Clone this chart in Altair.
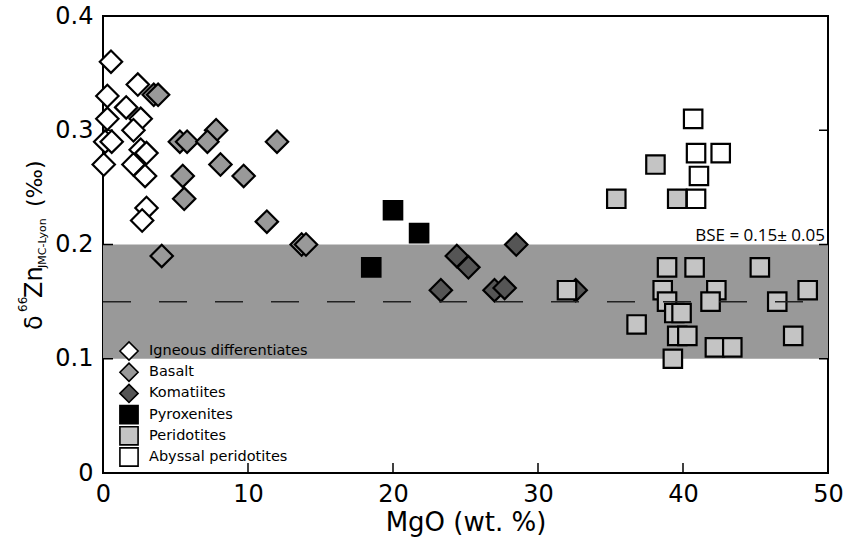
import altair as alt
import pandas as pd

# ---------------- data ----------------
categories = ["Igneous differentiates", "Basalt", "Komatiites",
              "Pyroxenites", "Peridotites", "Abyssal peridotites"]

igneous_x = [0.55, 0.3, 2.4, 1.6, 0.3, 2.6, 2.1, 0.15, 0.6, 2.6, 3.0, 0.05, 2.1, 2.9, 3.0, 2.7]
igneous_y = [0.36, 0.33, 0.34, 0.32, 0.31, 0.31, 0.30, 0.29, 0.29, 0.283, 0.28, 0.27, 0.27, 0.26, 0.232, 0.221]

basalt_x = [3.5, 3.8, 5.3, 5.8, 7.8, 7.2, 12.0, 8.1, 5.5, 9.7, 5.6, 11.3, 13.7, 14.0, 4.05]
basalt_y = [0.331, 0.331, 0.29, 0.29, 0.30, 0.29, 0.29, 0.27, 0.26, 0.26, 0.24, 0.22, 0.20, 0.20, 0.19]

komatiite_x = [24.4, 25.2, 28.5, 23.3, 27.0, 27.7, 32.6]
komatiite_y = [0.19, 0.18, 0.20, 0.16, 0.16, 0.162, 0.16]

pyroxenite_x = [20.0, 21.8, 18.5]
pyroxenite_y = [0.23, 0.21, 0.18]

peridotite_x = [38.1, 35.4, 39.6, 38.9, 40.8, 45.3, 38.6, 42.3, 48.6, 32.0, 38.9, 41.9,
                46.5, 36.8, 39.4, 39.9, 39.6, 40.3, 42.2, 43.4, 47.6, 39.3]
peridotite_y = [0.27, 0.24, 0.24, 0.18, 0.18, 0.18, 0.16, 0.16, 0.16, 0.16, 0.15, 0.15,
                0.15, 0.13, 0.14, 0.14, 0.12, 0.12, 0.11, 0.11, 0.12, 0.10]

abyssal_x = [40.7, 40.9, 42.6, 41.1, 40.9]
abyssal_y = [0.31, 0.28, 0.28, 0.26, 0.24]

bse_value = [0.15]
bse_low = [0.10]
bse_high = [0.20]
bse_label = ["BSE = 0.15\u00b1 0.05"]

x_ticks = [0, 10, 20, 30, 40, 50]
y_ticks = [0, 0.1, 0.2, 0.3, 0.4]
x_inner_ticks = [10, 20, 30, 40]
y_right_ticks = [0.1, 0.2, 0.3]

fills = ["#ffffff", "#999999", "#555555", "#000000", "#c4c4c4", "#ffffff"]
shapes = ["diamond", "diamond", "diamond", "square", "square", "square"]

# ---------------- tables ----------------
series = [igneous_x, basalt_x, komatiite_x, pyroxenite_x, peridotite_x, abyssal_x]
series_y = [igneous_y, basalt_y, komatiite_y, pyroxenite_y, peridotite_y, abyssal_y]
rows = []
for cat, xv_list, yv_list in zip(categories, series, series_y):
    for xv, yv in zip(xv_list, yv_list):
        rows.append({"cat": cat, "mgo": xv, "zn": yv})
pts = pd.DataFrame(rows)
pts["order"] = range(len(pts))
diam = pts[pts["cat"].isin(categories[:3])]
squa = pts[pts["cat"].isin(categories[3:])]

legend_df = pd.DataFrame({"cat": categories, "i": range(len(categories))})

band_df = pd.DataFrame({"mgo": [x_ticks[0]], "mgo2": [x_ticks[-1]], "zn": bse_low, "zn2": bse_high})
line_df = pd.DataFrame({"mgo": [x_ticks[0]], "mgo2": [x_ticks[-1]], "zn": bse_value})
label_df = pd.DataFrame({"mgo": [x_ticks[-1]], "zn": bse_high, "t": bse_label})
ly_df = pd.DataFrame({"zn": y_ticks})
ry_df = pd.DataFrame({"zn": y_right_ticks})
bx_df = pd.DataFrame({"mgo": x_inner_ticks})

FONT = "DejaVu Sans"
W, H = 725, 457

xs = alt.Scale(domain=[x_ticks[0], x_ticks[-1]], nice=False, zero=False)
ys = alt.Scale(domain=[y_ticks[0], y_ticks[-1]], nice=False)

x_axis = alt.Axis(values=x_ticks, format="d", ticks=False, domain=False, grid=False,
                  labelFlush=False, labelOverlap=False,
                  labelFontSize=24, labelFont=FONT, labelColor="black", labelPadding=9,
                  title="MgO (wt. %)", titleFont=FONT, titleFontSize=26,
                  titleFontWeight="normal", titleColor="black", titlePadding=3)
y_axis = alt.Axis(values=y_ticks, ticks=False, domain=False, grid=False,
                  labelFlush=False, labelOverlap=False,
                  labelExpr="datum.value == 0 ? '0' : format(datum.value, '.1f')",
                  labelFontSize=24, labelFont=FONT, labelColor="black", labelPadding=10,
                  title="")

X = lambda f: alt.X(f, scale=xs, axis=x_axis)
Y = lambda f: alt.Y(f, scale=ys, axis=y_axis)

fill_enc = alt.Fill("cat:N", scale=alt.Scale(domain=categories, range=fills), legend=None)
shape_enc = alt.Shape("cat:N", scale=alt.Scale(domain=categories, range=shapes), legend=None)

band = alt.Chart(band_df).mark_rect(color="#999999").encode(
    x=X("mgo:Q"), x2="mgo2:Q", y=Y("zn:Q"), y2="zn2:Q")

def pts_layer(df, size):
    return alt.Chart(df).mark_point(filled=False, stroke="black", strokeWidth=2.2,
                                    opacity=1, fillOpacity=1, strokeOpacity=1,
                                    size=size).encode(
        x=X("mgo:Q"), y=Y("zn:Q"), fill=fill_enc, shape=shape_enc, order="order:Q")

diamonds = pts_layer(diam, 500)
squares = pts_layer(squa, 340)

dash = alt.Chart(line_df).mark_rule(color="#222222", strokeWidth=1.5, strokeDash=[28, 28]).encode(
    x=X("mgo:Q"), x2="mgo2:Q", y=Y("zn:Q"))

bse_text = alt.Chart(label_df).mark_text(align="right", baseline="alphabetic", dx=-3, dy=-4,
                                         font="Open Sans", fontSize=17, color="black").encode(
    x=X("mgo:Q"), y=Y("zn:Q"), text="t:N")

# custom legend (pixel placement inside the plot area)
leg_base = alt.Chart(legend_df).transform_calculate(py="335 + datum.i * 21.2")
leg_sym = leg_base.mark_point(filled=False, stroke="black", strokeWidth=1.6, opacity=1,
                              fillOpacity=1, strokeOpacity=1).encode(
    x=alt.value(26), y=alt.Y("py:Q", scale=None), fill=fill_enc, shape=shape_enc,
    size=alt.Size("cat:N", scale=alt.Scale(domain=categories,
                                            range=[330, 330, 330, 250, 250, 250]), legend=None))
leg_txt = leg_base.mark_text(align="left", baseline="middle", font=FONT, fontSize=14.5,
                             color="black").encode(
    x=alt.value(46), y=alt.Y("py:Q", scale=None), text="cat:N")

left_ticks = alt.Chart(ly_df).mark_rule(color="black", strokeWidth=1.5).encode(
    y=Y("zn:Q"), x=alt.value(0), x2=alt.value(10))
right_ticks = alt.Chart(ry_df).mark_rule(color="black", strokeWidth=1.5).encode(
    y=Y("zn:Q"), x=alt.value(W - 9), x2=alt.value(W))
bottom_ticks = alt.Chart(bx_df).mark_rule(color="black", strokeWidth=1.5).encode(
    x=X("mgo:Q"), y=alt.value(H - 10), y2=alt.value(H))

def ytitle(txt, size, xpos, ypos):
    return alt.Chart(pd.DataFrame({"t": [txt]})).mark_text(
        angle=270, align="left", baseline="alphabetic", font=FONT, fontSize=size,
        color="black").encode(x=alt.value(xpos), y=alt.value(ypos), text="t:N")

title_layers = [
    ytitle("\u03b4", 24, -61, 314),
    ytitle("66", 12, -76, 296),
    ytitle("Zn", 24, -61, 282),
    ytitle("JMC-Lyon", 11, -57, 252),
    ytitle("(\u2030)", 22, -61, 191),
]

chart = alt.layer(band, diamonds, squares, dash, bse_text, leg_sym, leg_txt,
                  left_ticks, right_ticks, bottom_ticks, *title_layers).properties(
    width=W, height=H,
    padding={"left": 103, "top": 16, "right": 20, "bottom": 75},
    autosize=alt.AutoSizeParams(type="none"),
    background="white",
).configure_view(stroke="black", strokeWidth=2)

chart.save("out.html", embed_options={"renderer": "svg", "actions": False})
